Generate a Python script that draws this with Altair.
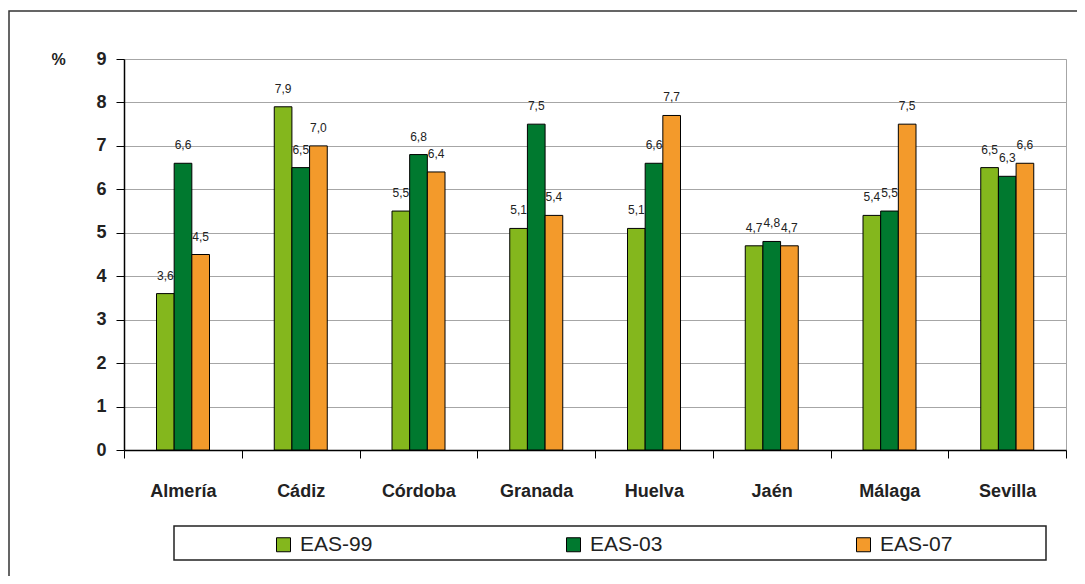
import altair as alt
import pandas as pd

provinces = ["Almería", "Cádiz", "Córdoba", "Granada", "Huelva", "Jaén", "Málaga", "Sevilla"]
series = ["EAS-99", "EAS-03", "EAS-07"]
eas99 = [3.6, 7.9, 5.5, 5.1, 5.1, 4.7, 5.4, 6.5]
eas03 = [6.6, 6.5, 6.8, 7.5, 6.6, 4.8, 5.5, 6.3]
eas07 = [4.5, 7.0, 6.4, 5.4, 7.7, 4.7, 7.5, 6.6]
colors = ["#84B71D", "#00792F", "#F39A2B"]
y_ticks = [0, 1, 2, 3, 4, 5, 6, 7, 8, 9]

rows = []
for s, vals in zip(series, [eas99, eas03, eas07]):
    for p, v in zip(provinces, vals):
        rows.append({"Provincia": p, "Serie": s, "Valor": v,
                     "Etiqueta": f"{v:.1f}".replace(".", ",")})
df = pd.DataFrame(rows)

W, H = 942, 391
FONT = "Liberation Sans"

x_enc = alt.X("Provincia:N", sort=provinces,
              scale=alt.Scale(paddingInner=0, paddingOuter=0),
              axis=alt.Axis(title=None, labelAngle=0, tickBand="extent",
                            labelFont=FONT, labelFontSize=18, labelFontWeight="bold",
                            labelColor="#222", labelPadding=24, tickSize=8,
                            tickColor="black", domainColor="black", domainWidth=1.5,
                            grid=False))
y_enc = alt.Y("Valor:Q", scale=alt.Scale(domain=[0, 9], nice=False),
              axis=alt.Axis(title="%", values=y_ticks, format="d",
                            titleAngle=0, titleX=-66, titleY=0, titleAlign="center",
                            titleBaseline="middle", titleFont=FONT, titleFontSize=16,
                            titleFontWeight="bold", titleColor="#222",
                            labelFont=FONT, labelFontSize=18, labelFontWeight="bold",
                            labelColor="#222", labelPadding=10, tickSize=8,
                            tickColor="black", domainColor="black", domainWidth=1.5,
                            grid=True, gridColor="#a6a6a6", gridWidth=1))
xo_enc = alt.XOffset("Serie:N", sort=series,
                     scale=alt.Scale(paddingInner=0, paddingOuter=0, range=[32.5, 85.5]))

bars = alt.Chart(df).mark_bar(stroke="black", strokeWidth=1).encode(
    x=x_enc, y=y_enc, xOffset=xo_enc,
    color=alt.Color("Serie:N", sort=series,
                    scale=alt.Scale(domain=series, range=colors),
                    legend=alt.Legend(title=None, orient="none", legendX=149, legendY=475,
                                      direction="horizontal", symbolType="square",
                                      symbolSize=196, symbolStrokeColor="black",
                                      symbolStrokeWidth=1, symbolOpacity=1,
                                      labelFont=FONT, labelFontSize=21,
                                      labelColor="#222", labelOffset=6,
                                      columnPadding=190))
)

labels = alt.Chart(df).mark_text(dy=-14, baseline="alphabetic", fontSize=12,
                                 font=FONT, color="#222").encode(
    x=x_enc, y=y_enc, xOffset=xo_enc, text="Etiqueta:N"
)

one = pd.DataFrame({"k": [0]})
legend_box = alt.Chart(one).mark_rect(fill=None, stroke="#222", strokeWidth=1.5).encode(
    x=alt.value(50), x2=alt.value(922), y=alt.value(467), y2=alt.value(501)
)
frame = alt.Chart(one).mark_rect(fill=None, stroke="#333", strokeWidth=1.5).encode(
    x=alt.value(-115), x2=alt.value(1100), y=alt.value(-48), y2=alt.value(700)
)

chart = alt.layer(frame, bars, labels, legend_box).properties(
    width=W, height=H,
    padding={"left": 116, "top": 51, "right": 11, "bottom": 126},
    autosize=alt.AutoSizeParams(type="none"),
).configure_view(stroke="#a6a6a6", strokeWidth=1)

chart.save("out.html", embed_options={"renderer": "svg", "actions": False})
